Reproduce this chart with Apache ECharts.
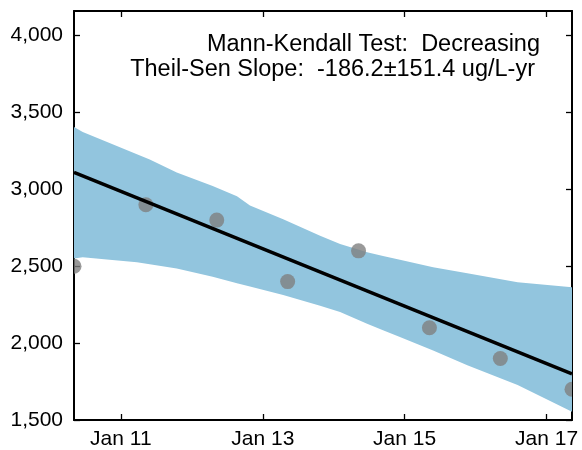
<!DOCTYPE html>
<html>
<head>
<meta charset="utf-8">
<script src="https://cdn.jsdelivr.net/npm/echarts@6/dist/echarts.min.js"></script>
<style>
html,body{margin:0;padding:0;background:#fff;}
#chart{width:582px;height:450px;}
</style>
</head>
<body>
<div id="chart"></div>
<script>
// Observations (annual samples)
const sampleDates = ['2010-05-05','2011-05-10','2012-05-09','2013-05-09','2014-05-09','2015-05-09','2016-05-08','2017-05-12'];
const sampleValues = [2500, 2900, 2800, 2400, 2600, 2100, 1900, 1700];

// Theil-Sen trend line end points
const trendDates = ['2010-05-05','2017-05-12'];
const trendValues = [3110, 1800];

// Confidence band
const bandDates = ['2010-05-05','2010-06-19','2010-11-04','2011-03-25','2011-05-30','2011-10-16','2012-04-18','2012-08-21','2012-10-27','2013-04-16','2013-10-23','2014-02-03','2014-06-22','2014-09-12','2014-12-08','2015-05-28','2015-11-20','2016-08-05','2017-05-12'];
const bandUpper = [3405, 3373, 3301, 3229, 3195, 3109, 3022, 2955, 2895, 2806, 2698, 2644, 2591, 2567, 2542, 2494, 2454, 2396, 2364];
const bandLower = [2550, 2558, 2542, 2526, 2513, 2485, 2431, 2390, 2368, 2313, 2243, 2202, 2126, 2083, 2040, 1952, 1856, 1727, 1554];

// Axis ticks
const xTickDates = ['2011-01-01','2013-01-01','2015-01-01','2017-01-01'];
const xTickLabels = ['Jan 11','Jan 13','Jan 15','Jan 17'];
const yTicks = [1500, 2000, 2500, 3000, 3500, 4000];
const yMin = 1500, yMax = 4160;

const annotLines = ['Mann-Kendall Test:  Decreasing', 'Theil-Sen Slope:  -186.2\u00b1151.4 ug/L-yr'];

const ts = d => new Date(d + 'T00:00:00Z').getTime();
const xMin = ts(sampleDates[0]);
const xMax = ts(sampleDates[sampleDates.length - 1]);
const xTickVals = xTickDates.map(ts);
const labelMap = {};
xTickVals.forEach((v, i) => { labelMap[v] = xTickLabels[i]; });

const FONT = '"Liberation Sans", Arial, sans-serif';

const chart = echarts.init(document.getElementById('chart'), null, {renderer: 'canvas'});

const baseX = {
  type: 'value', min: xMin, max: xMax, scale: true,
  splitLine: {show: false},
  axisLine: {show: true, onZero: false, lineStyle: {color: '#000', width: 2}},
  axisTick: {show: true, inside: true, length: 6, customValues: xTickVals, lineStyle: {color: '#000', width: 1.3}},
};
const baseY = {
  type: 'value', min: yMin, max: yMax,
  splitLine: {show: false},
  axisLine: {show: true, onZero: false, lineStyle: {color: '#000', width: 2}},
  axisTick: {show: true, inside: true, length: 6, customValues: yTicks, lineStyle: {color: '#000', width: 1.3}},
};

chart.setOption({
  animation: false,
  backgroundColor: '#fff',
  grid: {left: 74, right: 10, top: 11, bottom: 28, containLabel: false},
  xAxis: [
    Object.assign({}, baseX, {
      position: 'bottom',
      axisLabel: {show: true, customValues: xTickVals, margin: 9, color: '#000', fontSize: 21, fontFamily: FONT,
        formatter: v => labelMap[v] || ''}
    }),
    Object.assign({}, baseX, {position: 'top', axisLabel: {show: false}})
  ],
  yAxis: [
    Object.assign({}, baseY, {
      position: 'left',
      axisLabel: {show: true, customValues: yTicks, margin: 11, color: '#000', fontSize: 21, fontFamily: FONT,
        formatter: v => v.toLocaleString('en-US')}
    }),
    Object.assign({}, baseY, {position: 'right', axisLabel: {show: false}})
  ],
  series: [
    {
      type: 'custom', name: 'band', clip: true, z: 1, silent: true,
      data: [0],
      renderItem: (params, api) => {
        const up = bandDates.map((d, i) => api.coord([ts(d), bandUpper[i]]));
        const lo = bandDates.map((d, i) => api.coord([ts(d), bandLower[i]])).reverse();
        return {type: 'polygon', shape: {points: up.concat(lo)}, style: {fill: '#92c5de'}};
      }
    },
    {
      type: 'custom', name: 'samples', clip: true, z: 2,
      data: sampleDates.map((d, i) => [ts(d), sampleValues[i]]),
      renderItem: (params, api) => {
        const p = api.coord([api.value(0), api.value(1)]);
        return {type: 'circle', shape: {cx: p[0], cy: p[1], r: 7.5},
          style: {fill: 'rgba(128,128,128,0.8)'}};
      }
    },
    {
      type: 'line', name: 'trend', symbol: 'none', z: 3,
      lineStyle: {color: '#000', width: 3.5},
      data: trendDates.map((d, i) => [ts(d), trendValues[i]])
    }
  ],
  graphic: [
    {type: 'text', x: 540, y: 44.5, z: 10,
     style: {text: annotLines[0], fontSize: 23.5, fontFamily: FONT, fill: '#000', align: 'right', verticalAlign: 'middle'}},
    {type: 'text', x: 535, y: 69.5, z: 10,
     style: {text: annotLines[1], fontSize: 23.5, fontFamily: FONT, fill: '#000', align: 'right', verticalAlign: 'middle'}}
  ]
});
</script>
</body>
</html>
